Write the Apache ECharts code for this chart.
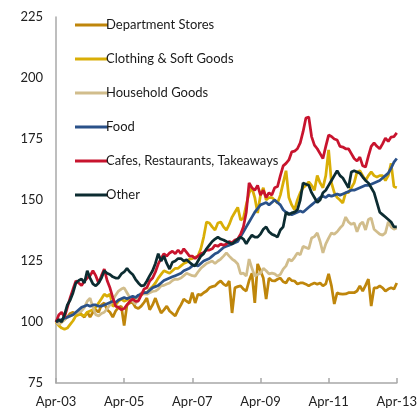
<!DOCTYPE html>
<html>
<head>
<meta charset="utf-8">
<script src="https://cdn.jsdelivr.net/npm/echarts@6/dist/echarts.min.js"></script>
<style>
  html, body { margin: 0; padding: 0; background: #fff; }
  #chart { width: 420px; height: 412px; }
</style>
</head>
<body>
<div id="chart"></div>
<script>
// monthly index, Apr-03 = 100
const monthNames = ['Jan', 'Feb', 'Mar', 'Apr', 'May', 'Jun', 'Jul', 'Aug', 'Sep', 'Oct', 'Nov', 'Dec'];
const categories = [];
for (let i = 0; i <= 120; i++) {
  const m = 3 + i;
  const yy = 3 + Math.floor(m / 12);
  categories.push(monthNames[m % 12] + '-' + (yy < 10 ? '0' + yy : '' + yy));
}

const yTicks = [75, 100, 125, 150, 175, 200, 225];

const deptStores = [
  100, 99, 100, 101, 102, 103.5, 104, 103, 104.5, 103, 102, 104,
  102, 104, 105, 104, 107, 107.8, 105, 104, 102, 104.5, 106, 106.5,
  98.5, 107, 107.8, 108, 106, 105.5, 106.5, 108, 109.8, 105, 107, 109.8,
  106.5, 103.7, 105, 106.5, 104.5, 103.5, 102.5, 105, 107, 109.4, 108.5, 107.8,
  112, 107.8, 111.4, 111, 112, 112.7, 114, 114.5, 114.8, 116, 116.8, 115.5,
  114.8, 116.8, 103.7, 114, 114.5, 114.8, 113.5, 112.7, 117, 120, 107.8, 123.8,
  121, 118, 109.4, 118, 117, 116.8, 117.5, 118, 116.5, 116, 118, 117,
  116.8, 115.6, 116, 116, 115.5, 114.8, 115.5, 116, 115.5, 116, 114.8, 115.6,
  119.7, 114.8, 107.4, 112, 111.5, 111.4, 111.5, 112, 112, 112, 112.7, 114.8,
  112.7, 115, 117.6, 106.5, 114, 114, 114.8, 114, 112.7, 113.5, 114, 113.5,
  116
];

const clothing = [
  100, 98.5, 97.5, 97, 97.5, 99, 100.5, 102.5, 103, 103, 102.5, 104,
  104.5, 105, 106, 107.8, 109.5, 111.4, 110.5, 111.4, 106.5, 107, 108.5, 109.4,
  108.5, 109, 109.8, 109, 110, 110.5, 111, 112, 112, 113.5, 114.5, 116,
  118, 119.5, 121, 120.5, 120, 121, 122, 122, 123, 124, 124.5, 125.8,
  126, 126.5, 127, 130, 134.8, 141, 140.6, 139, 137.7, 140.6, 141, 139,
  137.7, 140, 143, 145, 147, 141.8, 142.6, 148, 152.9, 155, 151, 144.7,
  152, 155, 150, 151, 151, 150, 148.8, 152, 157, 162, 151, 148,
  146, 150, 153, 155, 156, 157.4, 156, 154, 160, 157, 155, 160,
  170.5, 157, 153, 151, 150, 148.8, 153, 153, 155, 157, 161.5, 162,
  160, 158, 160, 161.5, 160, 159.4, 160, 160, 158, 160, 165, 155.5,
  155
];

const household = [
  100, 99, 100, 101, 102, 102.5, 103, 103.7, 104, 104.5, 106, 108.5,
  109.8, 106, 103, 102.5, 103.5, 104, 105.5, 107, 109, 111, 112.7, 113.5,
  114, 112, 110, 108.5, 107.4, 110, 112, 111.5, 111.4, 112, 112.5, 112.7,
  113.5, 114.8, 115, 115.6, 116, 117, 117.6, 117.5, 118, 119, 120, 119.5,
  119, 118.8, 120.5, 122, 123, 124, 124.5, 125, 124, 125, 125.8, 127,
  128.3, 127, 125.8, 125, 123.8, 119.7, 120, 118.8, 125.8, 122, 118.8, 119.5,
  120, 122, 121, 119.7, 120, 119.7, 118.8, 119.5, 121.7, 123, 125.8, 125,
  126.5, 128.3, 127.5, 131, 130.5, 130, 134.4, 135, 136.5, 133, 128.3, 132,
  134.4, 136.5, 136, 137, 138.5, 139.7, 143, 141, 140, 140.6, 137, 140,
  141, 137.7, 142, 142.6, 138, 137, 136, 135.6, 136.5, 141, 139, 138,
  138.5
];

const food = [
  100, 100.5, 101, 101.5, 102, 102.5, 103, 104, 105, 106, 106.5, 107,
  106.5, 107, 107, 106.5, 106.5, 107, 107.5, 108, 108.5, 108, 109, 109.5,
  110, 109.5, 110, 110.5, 110, 111, 111.5, 112, 112, 113, 114, 114.5,
  115, 116, 117, 117.5, 118, 118.5, 119, 119.5, 120, 121, 121.5, 122,
  123, 123.5, 123, 124, 125, 125.5, 126, 127, 128, 128.5, 129.5, 130.5,
  131, 131.5, 132, 132.5, 133, 135, 137, 139, 141, 143, 145, 146.5,
  148, 148.5, 149, 148, 149, 150, 149, 148, 146, 145, 144.5, 144,
  144.5, 145, 145.5, 145, 146, 147, 148, 149, 150, 151, 151.5, 151,
  152, 151.5, 152, 152.5, 152, 152.5, 153, 153.5, 154, 154, 154.5, 155,
  155.5, 156, 156, 156.5, 157, 157.5, 158, 159, 160, 161, 163, 165.5,
  167
];

const cafes = [
  100, 103, 104, 102, 106, 110, 113.5, 116.8, 116, 115, 116.8, 118,
  119, 121, 119, 116, 119, 121.7, 117, 114, 110, 106.5, 106, 105,
  105.5, 107, 108.5, 109.4, 108.5, 108.6, 111, 113.5, 114, 116.8, 118, 120.5,
  123.8, 126, 128, 127, 128.3, 129, 128, 129.5, 128, 130, 128.5, 127,
  127, 126, 127, 128, 128.5, 129.5, 129.5, 130, 131.5, 131, 132, 131.5,
  132, 133, 132.5, 133.6, 134, 136, 139, 145, 157, 155, 154, 156,
  152, 154, 151, 153, 152, 155, 155.5, 160, 164, 165, 166.4, 169.7,
  170, 171, 173.4, 178, 183.6, 184, 176, 172.5, 171, 169, 167, 172,
  176.6, 176, 175, 174.6, 172, 171.7, 171, 171, 169, 167, 166, 167.6,
  164, 163.5, 168, 172, 173.4, 172, 171, 173, 175.4, 174, 175.8, 176,
  177.5
];

const other = [
  100, 101, 100, 103, 107, 109, 112, 116, 117, 117.6, 116, 121,
  118, 115.6, 114.8, 116, 118, 121, 120, 119.5, 118.5, 118, 118, 119.7,
  120.5, 122, 120.5, 119.5, 117.5, 116, 114.8, 115, 116.8, 119, 121, 124,
  128, 125, 127, 124, 121.7, 124.5, 125, 126, 126, 125, 125.5, 124.5,
  123.5, 123, 125, 127, 128, 130, 131.5, 133, 134, 134.8, 134, 133.6,
  133, 132.5, 132, 133, 134, 134.8, 134, 132, 134, 135.6, 134.8, 134.8,
  136, 138, 139, 137, 136, 135.5, 134.8, 137.7, 139, 145, 144, 144.7,
  145, 146, 150, 157, 156.5, 156, 153, 151, 149, 150, 153, 154,
  156, 158, 160, 162, 160, 159, 157, 155, 161.5, 162, 161.5, 161,
  159.4, 158, 157, 155, 153, 149, 145, 144, 143, 142, 141, 139,
  139
];

const seriesList = [
  { name: 'Department Stores', data: deptStores, color: '#BF860B' },
  { name: 'Clothing & Soft Goods', data: clothing, color: '#D9AE06' },
  { name: 'Household Goods', data: household, color: '#D1BD8C' },
  { name: 'Food', data: food, color: '#2A5189' },
  { name: 'Cafes, Restaurants, Takeaways', data: cafes, color: '#C8142E' },
  { name: 'Other', data: other, color: '#0C2C31' }
];

const chart = echarts.init(document.getElementById('chart'), null, { renderer: 'canvas' });

const axisGray = '#A8A8A8';
const fontFamily = 'Lato, "Open Sans", sans-serif';

const option = {
  animation: false,
  backgroundColor: '#fff',
  grid: { left: 56, right: 19, top: 17, bottom: 29, containLabel: false },
  legend: {
    orient: 'vertical',
    left: 70,
    top: 13,
    icon: 'rect',
    itemWidth: 33,
    itemHeight: 3,
    itemGap: 20,
    textStyle: { fontFamily: fontFamily, fontSize: 13, color: '#1a1a1a', lineHeight: 14, padding: [0, 0, 0, -7] },
    data: seriesList.map(s => s.name)
  },
  xAxis: {
    type: 'category',
    data: categories,
    boundaryGap: false,
    axisLine: { lineStyle: { color: axisGray, width: 1.5 } },
    axisTick: { show: true, inside: true, length: 5, interval: 23, lineStyle: { color: axisGray, width: 1.5 } },
    axisLabel: { interval: 23, margin: 12, fontFamily: fontFamily, fontSize: 13, color: '#222' },
    splitLine: { show: false }
  },
  yAxis: {
    type: 'value',
    min: yTicks[0],
    max: yTicks[yTicks.length - 1],
    interval: 25,
    axisLine: { show: true, lineStyle: { color: axisGray, width: 1.5 } },
    axisTick: { show: false },
    axisLabel: { margin: 13, fontFamily: fontFamily, fontSize: 13, color: '#222' },
    splitLine: { show: false }
  },
  series: seriesList.map(s => ({
    name: s.name,
    type: 'line',
    data: s.data,
    showSymbol: false,
    symbol: 'none',
    smooth: false,
    color: s.color,
    lineStyle: { color: s.color, width: 2.75 }
  }))
};

chart.setOption(option);
</script>
</body>
</html>
